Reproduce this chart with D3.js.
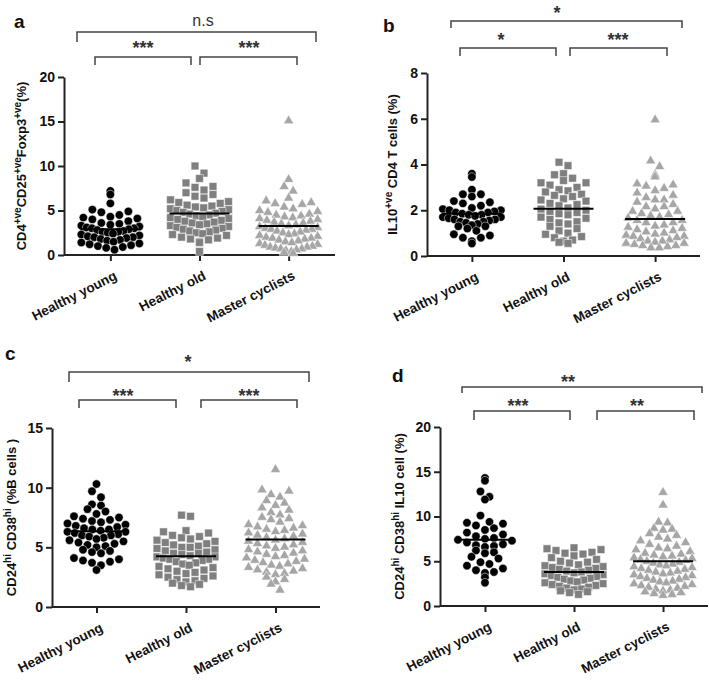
<!DOCTYPE html>
<html><head><meta charset="utf-8">
<script src="https://cdn.jsdelivr.net/npm/d3@7"></script>
<style>html,body{margin:0;padding:0;background:#fff}svg{display:block}</style>
</head><body>
<script>
// ---------------- DATA ----------------
const categories = ["Healthy young", "Healthy old", "Master cyclists"];

const aYoung = [7.2, 6.8, 5.8, 5.1, 4.9, 4.8, 4.5, 4.3, 4.2, 4.1, 4.0, 3.8, 3.6, 3.5, 3.4, 3.3, 3.2, 3.1, 3.0, 3.0, 2.9, 2.8, 2.7, 2.6, 2.6, 2.5, 2.4, 2.3, 2.2, 2.1, 2.0, 2.0, 1.9, 1.8, 1.7, 1.6, 1.5, 1.4, 1.3, 1.2, 1.1, 1.0, 0.9, 0.8, 0.6];
const aOld = [10.0, 9.2, 8.6, 8.1, 7.7, 7.6, 7.3, 7.0, 6.8, 6.6, 6.4, 6.2, 6.0, 5.9, 5.8, 5.6, 5.5, 5.4, 5.3, 5.2, 5.1, 5.0, 4.9, 4.8, 4.7, 4.6, 4.5, 4.4, 4.3, 4.2, 4.1, 4.0, 3.9, 3.8, 3.7, 3.6, 3.5, 3.4, 3.3, 3.2, 3.1, 3.0, 2.9, 2.8, 2.7, 2.6, 2.5, 2.4, 2.3, 2.2, 2.0, 1.9, 1.8, 1.7, 1.5, 1.4, 0.4];
const aMaster = [15.2, 8.6, 7.8, 7.3, 6.5, 6.2, 6.0, 5.9, 5.8, 5.5, 5.3, 5.1, 5.0, 4.9, 4.7, 4.6, 4.5, 4.4, 4.3, 4.2, 4.1, 4.0, 3.9, 3.8, 3.7, 3.6, 3.5, 3.4, 3.3, 3.2, 3.1, 3.0, 3.0, 2.9, 2.8, 2.7, 2.6, 2.5, 2.4, 2.3, 2.2, 2.1, 2.0, 2.0, 1.9, 1.8, 1.7, 1.6, 1.5, 1.4, 1.3, 1.2, 1.1, 1.0, 1.0, 0.9, 0.8, 0.8, 0.7, 0.6, 0.5, 0.4, 0.3];
const aMeans = [2.9, 4.65, 3.25];
const aTicks = [0, 5, 10, 15, 20];
const aSig = ["n.s", "***", "***"];

const bYoung = [3.6, 3.45, 2.9, 2.7, 2.7, 2.6, 2.4, 2.35, 2.3, 2.2, 2.1, 2.05, 2.0, 2.0, 1.95, 1.9, 1.9, 1.85, 1.8, 1.8, 1.75, 1.7, 1.7, 1.65, 1.6, 1.6, 1.55, 1.5, 1.5, 1.45, 1.4, 1.35, 1.3, 1.3, 1.2, 1.1, 0.95, 0.9, 0.8, 0.8, 0.65, 0.55];
const bOld = [4.1, 3.95, 3.6, 3.55, 3.4, 3.3, 3.2, 3.2, 3.1, 3.0, 2.9, 2.85, 2.8, 2.7, 2.65, 2.6, 2.5, 2.45, 2.4, 2.3, 2.25, 2.2, 2.1, 2.05, 2.0, 1.95, 1.9, 1.85, 1.8, 1.7, 1.65, 1.6, 1.5, 1.45, 1.4, 1.3, 1.2, 1.1, 1.0, 0.95, 0.85, 0.8, 0.7, 0.65, 0.6, 0.55];
const bMaster = [6.0, 4.2, 3.95, 3.6, 3.5, 3.2, 3.15, 3.1, 3.0, 2.9, 2.8, 2.7, 2.6, 2.5, 2.5, 2.4, 2.3, 2.2, 2.2, 2.1, 2.0, 2.0, 1.9, 1.85, 1.8, 1.75, 1.7, 1.6, 1.6, 1.5, 1.5, 1.4, 1.35, 1.3, 1.25, 1.2, 1.15, 1.1, 1.05, 1.0, 0.95, 0.9, 0.9, 0.85, 0.8, 0.75, 0.7, 0.7, 0.65, 0.6, 0.6, 0.55, 0.5, 0.5, 0.45, 0.4, 0.4];
const bMeans = [1.85, 2.07, 1.62];
const bTicks = [0, 2, 4, 6, 8];
const bSig = ["*", "*", "***"];

const cYoung = [10.3, 9.7, 9.2, 8.6, 8.5, 8.2, 8.0, 7.8, 7.6, 7.5, 7.4, 7.3, 7.2, 7.1, 7.0, 6.9, 6.8, 6.7, 6.6, 6.5, 6.5, 6.4, 6.3, 6.3, 6.2, 6.1, 6.0, 6.0, 5.9, 5.8, 5.7, 5.6, 5.5, 5.4, 5.3, 5.2, 5.1, 5.0, 4.8, 4.7, 4.6, 4.5, 4.1, 4.0, 3.9, 3.8, 3.7, 3.5, 3.1];
const cOld = [7.7, 7.6, 6.4, 6.3, 6.2, 6.0, 5.9, 5.8, 5.7, 5.6, 5.5, 5.4, 5.3, 5.2, 5.1, 5.0, 5.0, 4.9, 4.8, 4.7, 4.6, 4.5, 4.5, 4.4, 4.3, 4.2, 4.2, 4.1, 4.0, 4.0, 3.9, 3.8, 3.7, 3.6, 3.5, 3.4, 3.3, 3.2, 3.1, 3.0, 2.9, 2.8, 2.7, 2.6, 2.5, 2.4, 2.3, 2.2, 2.1, 2.0, 1.9, 1.8, 1.7];
const cMaster = [11.6, 9.9, 9.8, 9.5, 9.3, 9.0, 8.8, 8.6, 8.4, 8.2, 8.0, 7.8, 7.6, 7.5, 7.4, 7.2, 7.0, 6.9, 6.8, 6.7, 6.6, 6.5, 6.4, 6.3, 6.2, 6.1, 6.0, 5.9, 5.8, 5.7, 5.6, 5.5, 5.4, 5.3, 5.2, 5.1, 5.0, 4.9, 4.8, 4.7, 4.6, 4.5, 4.4, 4.3, 4.2, 4.1, 4.0, 3.9, 3.8, 3.7, 3.6, 3.5, 3.4, 3.3, 3.2, 3.1, 3.0, 2.9, 2.8, 2.6, 2.4, 2.2, 2.0, 1.5];
const cMeans = [6.35, 4.25, 5.65];
const cTicks = [0, 5, 10, 15];
const cSig = ["*", "***", "***"];

const dYoung = [14.3, 14.0, 12.8, 12.2, 11.9, 10.1, 9.4, 9.3, 9.2, 9.0, 8.7, 8.5, 8.2, 8.0, 7.8, 7.6, 7.5, 7.4, 7.3, 7.1, 6.9, 6.8, 6.7, 6.6, 6.2, 6.0, 5.9, 5.5, 5.3, 4.9, 4.7, 4.5, 4.2, 4.0, 3.8, 3.7, 3.2, 2.6];
const dOld = [6.5, 6.4, 6.3, 6.2, 6.0, 5.9, 5.8, 5.6, 5.4, 5.2, 5.0, 4.9, 4.8, 4.6, 4.5, 4.4, 4.3, 4.2, 4.1, 4.0, 3.9, 3.8, 3.7, 3.6, 3.5, 3.4, 3.3, 3.2, 3.1, 3.0, 2.9, 2.8, 2.7, 2.6, 2.5, 2.4, 2.3, 2.2, 2.1, 2.0, 1.9, 1.8, 1.7, 1.6, 1.5, 1.3];
const dMaster = [12.8, 11.4, 9.5, 9.4, 8.8, 8.7, 8.6, 8.2, 8.0, 7.8, 7.6, 7.4, 7.2, 7.0, 6.8, 6.6, 6.5, 6.4, 6.2, 6.0, 5.9, 5.8, 5.7, 5.6, 5.5, 5.4, 5.3, 5.2, 5.1, 5.0, 4.9, 4.8, 4.7, 4.6, 4.5, 4.4, 4.3, 4.2, 4.1, 4.0, 3.9, 3.8, 3.7, 3.6, 3.5, 3.4, 3.3, 3.2, 3.1, 3.0, 2.9, 2.8, 2.7, 2.6, 2.5, 2.4, 2.3, 2.2, 2.1, 2.0, 1.9, 1.8, 1.7, 1.6, 1.5, 1.4, 1.3];
const dMeans = [7.4, 3.8, 5.0];
const dTicks = [0, 5, 10, 15, 20];
const dSig = ["**", "***", "**"];

// y-axis titles: [text, isSuperscript] pieces
const aTitle = [["CD4", 0], ["+ve", 1], ["CD25", 0], ["+ve", 1], ["Foxp3", 0], ["+ve", 1], ["(%)", 0]];
const bTitle = [["IL10", 0], ["+ve", 1], [" CD4 T cells (%)", 0]];
const cTitle = [["CD24", 0], ["hi", 1], [" CD38", 0], ["hi", 1], [" (%B cells )", 0]];
const dTitle = [["CD24", 0], ["hi", 1], [" CD38", 0], ["hi", 1], [" IL10 cell (%)", 0]];

// ---------------- LAYOUT ----------------
const FONT = "Arial, 'Liberation Sans', sans-serif";
const colors = ["#000000", "#7f7f7f", "#a6a6a6"];
const symbols = [d3.symbolCircle, d3.symbolSquare, d3.symbolTriangle];
const symSizes = [56, 60, 44];

const panels = [
  { letter: "a", groups: [aYoung, aOld, aMaster], means: aMeans, ticks: aTicks, sig: aSig, title: aTitle,
    x0: 64, x1: 335, y0: 255, yT: 77, pad: 0.52, titleX: 26, letterX: 14, letterY: 28,
    br: [{ a: 77, b: 316, y: 32, d: 42, tx: 203, ty: 20 }, { a: 95, b: 191, y: 57, d: 65, tx: 143, ty: 44 }, { a: 200, b: 297, y: 57, d: 65, tx: 249, ty: 44 }] },
  { letter: "b", groups: [bYoung, bOld, bMaster], means: bMeans, ticks: bTicks, sig: bSig, title: bTitle,
    x0: 427, x1: 700, y0: 256, yT: 73, pad: 0.49, titleX: 397, letterX: 383, letterY: 32,
    br: [{ a: 451, b: 682, y: 21, d: 28, tx: 557, ty: 9 }, { a: 460, b: 556, y: 48, d: 56, tx: 501, ty: 36 }, { a: 570, b: 667, y: 48, d: 56, tx: 618, ty: 36 }] },
  { letter: "c", groups: [cYoung, cOld, cMaster], means: cMeans, ticks: cTicks, sig: cSig, title: cTitle,
    x0: 52, x1: 320, y0: 607, yT: 428, pad: 0.497, titleX: 16, letterX: 5, letterY: 360,
    br: [{ a: 69, b: 309, y: 372, d: 382, tx: 188, ty: 358 }, { a: 79, b: 176, y: 400, d: 408, tx: 123, ty: 392 }, { a: 201, b: 297, y: 400, d: 408, tx: 249, ty: 392 }] },
  { letter: "d", groups: [dYoung, dOld, dMaster], means: dMeans, ticks: dTicks, sig: dSig, title: dTitle,
    x0: 440, x1: 708, y0: 606, yT: 427, pad: 0.505, titleX: 404, letterX: 392, letterY: 382,
    br: [{ a: 462, b: 702, y: 387, d: 393, tx: 568, ty: 378 }, { a: 474, b: 570, y: 411, d: 420, tx: 518, ty: 402 }, { a: 597, b: 694, y: 411, d: 420, tx: 637, ty: 402 }] }
];

const W = 709, H = 681;
const svg = d3.select("body").append("svg").attr("width", W).attr("height", H)
  .style("font-family", FONT);

function swarm(values, y, cx) {
  // GraphPad-like scatter: bin by pixel rows, spread horizontally within a row
  const binH = 8.5, maxHalf = 29, step = 9;
  const pts = values.map(v => ({ v, py: y(v) })).sort((p, q) => q.v - p.v);
  const bins = d3.group(pts, p => Math.round(p.py / binH));
  const out = [];
  for (const [, arr] of bins) {
    const n = arr.length;
    const s = n > 1 ? Math.min(step, (2 * maxHalf) / (n - 1)) : 0;
    const slots = d3.range(n).map(k => (k - (n - 1) / 2) * s);
    const order = [];
    let lo = 0, hi = n - 1;
    for (let i = 0; i < n; i++) order.push(i % 2 ? slots[hi--] : slots[lo++]);
    arr.forEach((p, i) => out.push({ v: p.v, x: cx + order[i], y: p.py }));
  }
  return out;
}

panels.forEach(P => {
  const g = svg.append("g");
  const x = d3.scalePoint().domain(categories).range([P.x0, P.x1]).padding(P.pad);
  const y = d3.scaleLinear().domain([0, d3.max(P.ticks)]).range([P.y0, P.yT]);

  // axes
  const yAxis = d3.axisLeft(y).tickValues(P.ticks).tickSize(6).tickPadding(3).tickSizeOuter(0);
  const ya = g.append("g").attr("transform", `translate(${P.x0},0)`).call(yAxis);
  const xAxis = d3.axisBottom(x).tickSize(6).tickSizeOuter(0).tickFormat("");
  const xa = g.append("g").attr("transform", `translate(0,${P.y0})`).call(xAxis);
  xa.select(".domain").attr("d", `M${P.x0},0H${P.x1}`);
  [ya, xa].forEach(a => {
    a.select(".domain").attr("stroke", "#222").attr("stroke-width", 2);
    a.selectAll(".tick line").attr("stroke", "#222").attr("stroke-width", 2);
  });
  ya.selectAll(".tick text").attr("font-size", 14).attr("font-weight", "bold").attr("fill", "#111")
    .attr("font-family", FONT);

  // rotated category labels
  g.append("g").selectAll("text").data(categories).join("text")
    .attr("transform", d => `translate(${x(d) + 3},${P.y0 + 15}) rotate(-27)`)
    .attr("text-anchor", "end").attr("dy", "0.72em")
    .attr("font-size", 13.5).attr("font-weight", "bold").attr("fill", "#111")
    .text(d => d);

  // points
  P.groups.forEach((vals, gi) => {
    const pts = swarm(vals, y, x(categories[gi]));
    g.append("g").selectAll("path").data(pts).join("path")
      .attr("d", d3.symbol().type(symbols[gi]).size(symSizes[gi]))
      .attr("transform", d => `translate(${d.x},${d.y + (gi === 2 ? 1 : 0)})`)
      .attr("fill", colors[gi]).attr("stroke", "#fff").attr("stroke-width", 0.5);
  });

  // mean lines
  g.append("g").selectAll("line").data(P.means).join("line")
    .attr("x1", (d, i) => x(categories[i]) - 30).attr("x2", (d, i) => x(categories[i]) + 30)
    .attr("y1", d => y(d)).attr("y2", d => y(d))
    .attr("stroke", "#000").attr("stroke-width", 2);

  // y title
  const t = g.append("text")
    .attr("transform", `translate(${P.titleX},${(P.y0 + P.yT) / 2}) rotate(-90)`)
    .attr("text-anchor", "middle").attr("font-size", 13).attr("font-weight", "bold").attr("fill", "#111");
  let up = false;
  P.title.forEach(([s, sup]) => {
    const sp = t.append("tspan").text(s);
    if (sup) { sp.attr("font-size", 10).attr("dy", -5); up = true; }
    else if (up) { sp.attr("dy", 5); up = false; }
  });

  // panel letter
  g.append("text").attr("x", P.letterX).attr("y", P.letterY)
    .attr("font-size", 19).attr("font-weight", "bold").attr("fill", "#111").text(P.letter);

  // significance brackets
  P.br.forEach((b, i) => {
    g.append("path").attr("d", `M${b.a},${b.d}V${b.y}H${b.b}V${b.d}`)
      .attr("fill", "none").attr("stroke", "#444").attr("stroke-width", 1.5);
    const txt = P.sig[i];
    const isNs = txt === "n.s";
    g.append("text").attr("x", b.tx)
      .attr("y", isNs ? b.ty + 6 : b.ty + 10)
      .attr("text-anchor", "middle").attr("fill", "#333")
      .attr("font-weight", isNs ? "normal" : "bold")
      .attr("font-size", isNs ? 16 : 18).text(txt);
  });
});
</script>
</body></html>
